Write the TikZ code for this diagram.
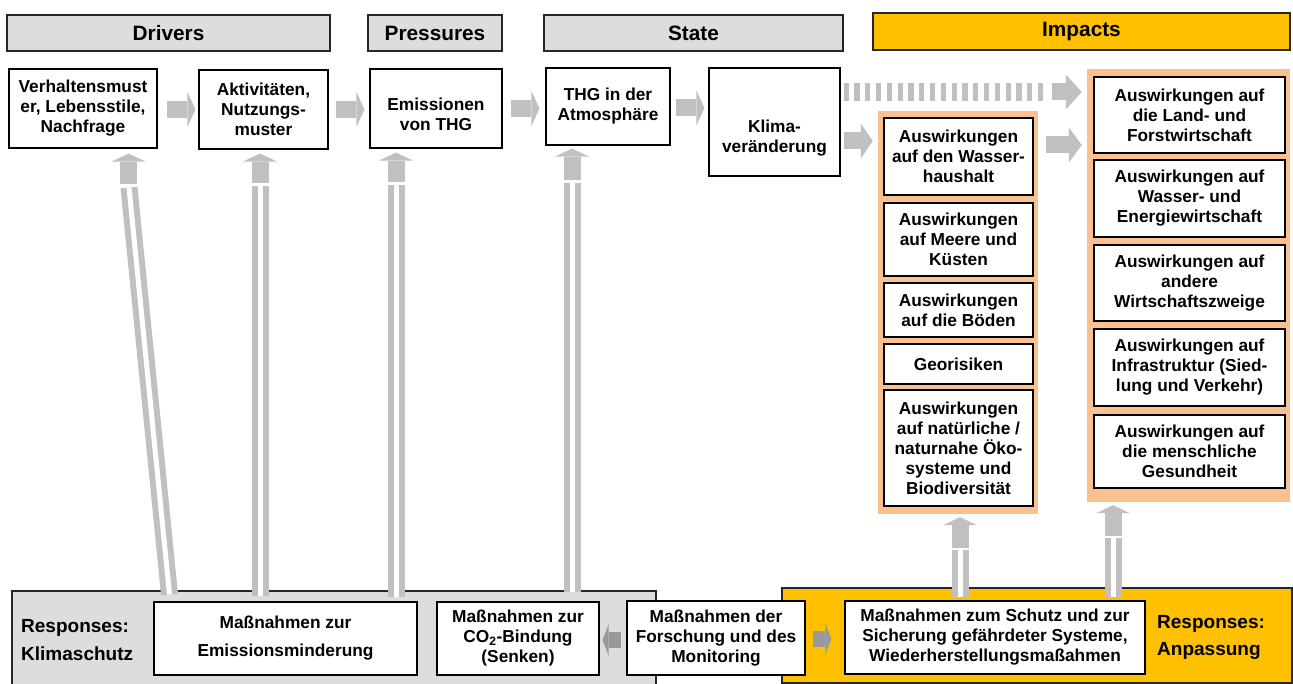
\documentclass[tikz,border=0pt]{standalone}
\usepackage{fontspec}
\setmainfont{Liberation Sans}
\usetikzlibrary{arrows.meta,calc}
\definecolor{agray}{HTML}{C0C0C0}
\definecolor{dgray}{HTML}{999999}
\definecolor{hgray}{HTML}{DDDDDD}
\definecolor{peach}{HTML}{FAC090}
\definecolor{gold}{HTML}{FFC000}
\newcommand\myBody{\fontsize{17.3}{20}\selectfont\bfseries}
\newcommand\myHdr{\fontsize{20.8}{24}\selectfont\bfseries}
\begin{document}
\begin{tikzpicture}[x=1pt,y=-1pt,
 box/.style={draw=black, line width=1.1pt, fill=white, inner sep=0pt, align=center, font=\myBody},
 hdr/.style={draw=black!85, line width=1.1pt, inner sep=0pt, font=\myHdr},
 panel/.style={draw=black!85, line width=1.1pt, inner sep=0pt},
 col/.style={fill=peach, inner sep=0pt},
 harr/.style={draw=agray, line width=17pt, -{Triangle[length=#1,width=35pt,line width=0pt]}},
 harr/.default=8pt,
 darr/.style={draw=dgray, line width=16pt, -{Triangle[length=6pt,width=31pt,line width=0pt]}},
 stripes/.style={draw=agray, line width=6pt, double=white, double distance=5pt},
 vhead/.style={draw=agray, line width=17pt, -{Triangle[length=8pt,width=34pt,line width=0pt]}},
 resp/.style={anchor=west, align=left, inner sep=0pt, font=\fontsize{19}{#1}\selectfont\bfseries},
]
\useasboundingbox (0,0) rectangle (1293,684);
\clip (0,0) rectangle (1293,684);

% headers
\node[hdr, fill=hgray, minimum width=323, minimum height=36] (hd) at (168.5,33) {Drivers};
\node[hdr, fill=hgray, minimum width=134, minimum height=36] (hp) at (435,33) {Pressures};
\node[hdr, fill=hgray, minimum width=299, minimum height=36] (hs) at (693.5,33) {State};
\node[hdr, fill=gold, minimum width=417, minimum height=37] (hi) at (1081.5,31.5) {Impacts};

% panels and columns
\node[panel, fill=hgray, minimum width=644, minimum height=99] (gp) at (334,640.5) {};
\node[panel, fill=gold, minimum width=510, minimum height=95] (op) at (1037,635.5) {};
\node[col, minimum width=160, minimum height=403] (lc) at (958,312.5) {};
\node[col, minimum width=203, minimum height=433] (rc) at (1188.5,285.5) {};

% top row
\node[box, minimum width=148, minimum height=79] (b1) at (83,108.5) {Verhaltensmust\\er, Lebensstile,\\Nachfrage};
\node[box, minimum width=129, minimum height=79] (b2) at (263.5,109.5) {Aktivitäten,\\Nutzungs-\\muster};
\node[box, minimum width=132, minimum height=79,
  label={[font=\myBody, align=center, yshift=-6pt]center:{Emissionen\\von THG}}] (b3) at (436,108.5) {};
\node[box, minimum width=124, minimum height=77] (b4) at (608,106.5) {THG in der\\Atmosphäre};
\node[box, minimum width=131, minimum height=108,
  label={[font=\myBody, align=center, yshift=-16pt]center:{Klima-\\veränderung}}] (b5) at (774.5,122) {};

% left impact column
\node[box, minimum width=149, minimum height=77] (w1) at (958.5,156.5) {Auswirkungen\\auf den Wasser-\\haushalt};
\node[box, minimum width=149, minimum height=73] (w2) at (958.5,239.5) {Auswirkungen\\auf Meere und\\Küsten};
\node[box, minimum width=149, minimum height=54] (w3) at (958.5,310) {Auswirkungen\\auf die Böden};
\node[box, minimum width=149, minimum height=40] (w4) at (958.5,364) {Georisiken};
\node[box, minimum width=149, minimum height=116] (w5) at (958.5,448) {Auswirkungen\\auf natürliche /\\naturnahe Öko-\\systeme und\\Biodiversität};

% right impact column
\node[box, minimum width=191, minimum height=76] (r1) at (1189.5,115) {Auswirkungen auf\\die Land- und\\Forstwirtschaft};
\node[box, minimum width=191, minimum height=77] (r2) at (1189.5,198.5) {Auswirkungen auf\\Wasser- und\\Energiewirtschaft};
\node[box, minimum width=191, minimum height=76] (r3) at (1189.5,283) {Auswirkungen auf\\andere\\Wirtschaftszweige};
\node[box, minimum width=191, minimum height=77] (r4) at (1189.5,367.5) {Auswirkungen auf\\Infrastruktur (Sied-\\lung und Verkehr)};
\node[box, minimum width=191, minimum height=73] (r5) at (1189.5,451.5) {Auswirkungen auf\\die menschliche\\Gesundheit};

% bottom row
\node[box, minimum width=263, minimum height=73, font=\fontsize{17.3}{28}\selectfont\bfseries] (e1) at (285.5,638.5) {Maßnahmen zur\\Emissionsminderung};
\node[box, minimum width=162, minimum height=73] (e2) at (518,638.5) {Maßnahmen zur\\CO\textsubscript{2}-Bindung\\(Senken)};
\node[box, minimum width=178, minimum height=74] (e3) at (716,638) {Maßnahmen der\\Forschung und des\\Monitoring};
\node[box, minimum width=300, minimum height=73] (e4) at (995,637.5) {Maßnahmen zum Schutz und zur\\Sicherung gefährdeter Systeme,\\Wiederherstellungsmaßahmen};
\node[resp=28] (rk) at (21,640) {Responses:\\Klimaschutz};
\node[resp=27] (ra) at (1157,637) {Responses:\\Anpassung};

% horizontal arrows (top)
\draw[harr] ($(b1.east)+(9,1)$) -- ($(b1.east -| b2.west)+(-3,1)$);
\draw[harr] ($(b2.east)+(7,0)$) -- ($(b2.east -| b3.west)+(-5,0)$);
\draw[harr] ($(b3.east)+(8,0)$) -- ($(b3.east -| b4.west)+(-6,0)$);
\draw[harr] ($(b4.east)+(5,1.5)$) -- ($(b4.east -| b5.west)+(-4,1.5)$);
\draw[harr=12pt] ($(b5.east)+(3,19)$) -- ($(b5.east -| lc.west)+(-5,19)$);
\draw[harr=13pt] ($(lc.east |- w1.east)+(8,-11.5)$) -- ($(w1.east -| rc.west)+(-5,-11.5)$);
\draw[agray, line width=18pt, dash pattern=on 5.3pt off 5.5pt] ($(b5.east)+(3,-30)$) -- ($(b5.east -| rc.west)+(-40,-30)$);
\draw[harr=16pt] ($(b5.east -| rc.west)+(-35,-30)$) -- ($(b5.east -| rc.west)+(-5,-30)$);

% vertical arrows
\coordinate (v1t) at (129,0);
\coordinate (v1b) at (169.5,0);
\coordinate (v1h) at (128.5,0);
\coordinate (v2) at (260,0);
\coordinate (v3) at (396,0);
\coordinate (v4) at (572,0);
\coordinate (v5) at (960,0);
\coordinate (v6) at (1113,0);
\draw[stripes] ($(e1.north -| v1b)+(0,-7)$) -- ($(b1.south -| v1t)+(0,39)$);
\draw[vhead] ($(b1.south -| v1h)+(0,35)$) -- ($(b1.south -| v1h)+(0,5)$);
\draw[stripes] ($(e1.north -| v2)+(0,-5)$) -- ($(b2.south -| v2)+(0,36)$);
\draw[vhead] ($(b2.south -| v2)+(0,33)$) -- ($(b2.south -| v2)+(0,4)$);
\draw[stripes] ($(e1.north -| v3)+(0,-4)$) -- ($(b3.south -| v3)+(0,36)$);
\draw[vhead] ($(b3.south -| v3)+(0,33)$) -- ($(b3.south -| v3)+(0,4)$);
\draw[stripes] ($(e2.north -| v4)+(0,-9)$) -- ($(b4.south -| v4)+(0,37)$);
\draw[vhead] ($(b4.south -| v4)+(0,34)$) -- ($(b4.south -| v4)+(0,3)$);
\draw[stripes] ($(e4.north -| v5)+(0,-3)$) -- ($(lc.south -| v5)+(0,36)$);
\draw[vhead] ($(lc.south -| v5)+(0,34)$) -- ($(lc.south -| v5)+(0,3)$);
\draw[stripes] ($(e4.north -| v6)+(0,-3)$) -- ($(rc.south -| v6)+(0,36)$);
\draw[vhead] ($(rc.south -| v6)+(0,34)$) -- ($(rc.south -| v6)+(0,3)$);

% bottom arrows
\draw[darr] ($(e3.west)+(-5,2)$) -- ($(e3.west -| e2.east)+(3,2)$);
\draw[darr] ($(e3.east)+(7,1)$) -- ($(e3.east -| e4.west)+(-13,1)$);
\end{tikzpicture}
\end{document}
